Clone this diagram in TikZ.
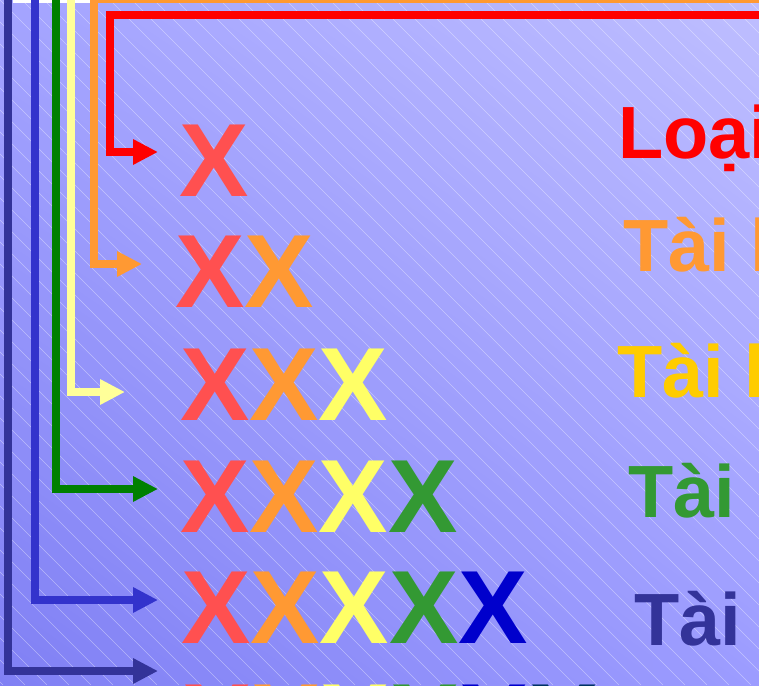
\documentclass[tikz,border=0pt]{standalone}
\usepackage{fontspec}
\setmainfont{Liberation Sans}
\usepackage{tikz}
\usetikzlibrary{arrows.meta, positioning, shadings}
\definecolor{BgUL}{HTML}{A4A4FF}
\definecolor{BgUR}{HTML}{BEBEFF}
\definecolor{BgLL}{HTML}{8080F4}
\definecolor{BgLR}{HTML}{9C9CFF}
\definecolor{XRed}{HTML}{FF5050}
\definecolor{XOrange}{HTML}{FF9933}
\definecolor{XYellow}{HTML}{FFFF66}
\definecolor{XGreen}{HTML}{339933}
\definecolor{XBlue}{HTML}{0000CC}
\definecolor{XTeal}{HTML}{003366}
\definecolor{LnRed}{HTML}{FF0000}
\definecolor{LnOrange}{HTML}{FF9933}
\definecolor{LnYellow}{HTML}{FFFF99}
\definecolor{LnGreen}{HTML}{008000}
\definecolor{LnBlue}{HTML}{3333CC}
\definecolor{LnNavy}{HTML}{333399}
\definecolor{TxGold}{HTML}{FFCC00}

\begin{document}
\begin{tikzpicture}[
  x=1pt, y=-1pt,
  xrow/.style={
    anchor=base west,
    inner sep=0pt,
    font=\fontsize{104}{104}\selectfont\bfseries,
  },
  lab/.style={
    anchor=base west,
    inner sep=0pt,
    font=\fontsize{74}{74}\selectfont\bfseries,
  },
  link/.style={
    line width=8pt,
    line join=miter,
    -{Triangle[length=25pt,width=24pt]},
  },
  hatch/.style={white, opacity=0.4, line width=0.6pt},
]
  \useasboundingbox (0,0) rectangle (759,685);
  \clip (0,0) rectangle (759,685);

  % background
  \shade[upper left=BgUL, upper right=BgUR, lower left=BgLL, lower right=BgLR]
    (0,0) rectangle (759,685);
  \foreach \x in {-704,-682,...,760}
    \draw[hatch] (\x,0) -- ++(685,685);
  \fill[white] (13,0) rectangle (142,3.5);

  % rows of X
  \node[xrow] (row1) at (179,196) {\color{XRed}X};
  \node[xrow] (row2) at (175,307) {\color{XRed}X\color{XOrange}X};
  \node[xrow] (row3) at (180,420) {\color{XRed}X\color{XOrange}X\color{XYellow}X};
  \node[xrow] (row4) at (180,532)
    {\color{XRed}X\color{XOrange}X\color{XYellow}X\color{XGreen}X};
  \node[xrow] (row5) at (181,643)
    {\color{XRed}X\color{XOrange}X\color{XYellow}X\color{XGreen}X\color{XBlue}X};
  \node[xrow] (row6) at (182,756)
    {\color{XRed}X\color{XOrange}X\color{XYellow}X\color{XGreen}X\color{XBlue}X\color{XTeal}X};

  % labels on the right
  \node[lab, text=LnRed] (lab1) at (618,158) {Loại};
  \node[lab, text=LnOrange] (lab2) at (623,271) {Tài l};
  \node[lab, text=TxGold] (lab3) at (617,397) {Tài l};
  \node[lab, text=XGreen] (lab4) at (628,517) {Tài l};
  \node[lab, text=LnNavy] (lab5) at (634,645) {Tài};

  % bracket arrows
  \coordinate (redIn) at (770,15);
  \coordinate (redTop) at (110,15);
  \coordinate (orIn) at (770,-1);
  \coordinate (orTop) at (94,-1);
  \coordinate (yeTop) at (71,-10);
  \coordinate (grTop) at (56,-10);
  \coordinate (blTop) at (35,-10);
  \coordinate (nvTop) at (7.5,-10);
  \coordinate (tip1) at (158,152);
  \coordinate (tip2) at (142,264);
  \coordinate (tip3) at (125,392);
  \coordinate (tip4) at (158,489);
  \coordinate (tip5) at (158,600);
  \coordinate (tip6) at (158,671);

  \draw[link, LnNavy] (nvTop) |- (tip6);
  \draw[link, LnBlue] (blTop) |- (tip5);
  \draw[link, LnGreen] (grTop) |- (tip4);
  \draw[link, LnYellow] (yeTop) |- (tip3);
  \draw[link, LnOrange] (orIn) -- (orTop) |- (tip2);
  \draw[link, LnRed] (redIn) -- (redTop) |- (tip1);
\end{tikzpicture}
\end{document}
